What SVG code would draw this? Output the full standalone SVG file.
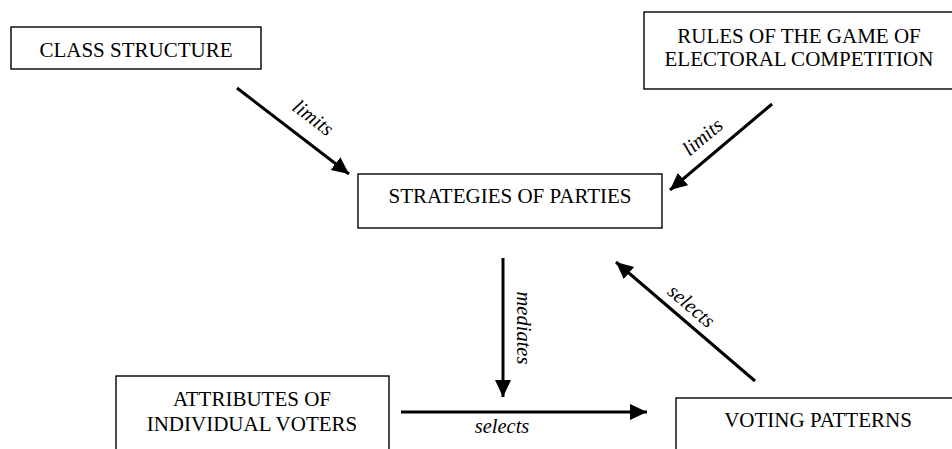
<svg xmlns="http://www.w3.org/2000/svg" width="952" height="449" viewBox="0 0 952 449">
<defs>
<style>
.box{fill:#fff;stroke:#000;stroke-width:1.4}
.nt{font-family:"Liberation Serif","Times New Roman",serif;font-size:21px;fill:#000;text-anchor:middle}
.lb{font-family:"Liberation Serif","Times New Roman",serif;font-size:20.5px;font-style:italic;fill:#000;text-anchor:middle}
.ar{stroke:#000;stroke-width:3;fill:none;marker-end:url(#ah)}
</style>
<marker id="ah" markerUnits="userSpaceOnUse" markerWidth="18" markerHeight="17" refX="17" refY="8" orient="auto" viewBox="0 0 18 17">
<path d="M0,0 L17,8 L0,16 z" fill="#000"/>
</marker>
</defs>
<rect width="952" height="449" fill="#fff"/>
<g id="class-structure">
<rect class="box" x="11" y="27" width="250" height="42"/>
<text class="nt" x="136" y="57">CLASS STRUCTURE</text>
</g>
<g id="rules">
<rect class="box" x="644" y="12" width="320" height="77"/>
<text class="nt" x="799" y="43">RULES OF THE GAME OF</text>
<text class="nt" x="799" y="66">ELECTORAL COMPETITION</text>
</g>
<g id="strategies">
<rect class="box" x="358" y="174" width="304" height="54"/>
<text class="nt" x="510" y="203">STRATEGIES OF PARTIES</text>
</g>
<g id="attributes">
<rect class="box" x="116" y="376" width="273" height="100"/>
<text class="nt" x="252" y="406">ATTRIBUTES OF</text>
<text class="nt" x="252" y="431">INDIVIDUAL VOTERS</text>
</g>
<g id="voting-patterns">
<rect class="box" x="676" y="398" width="300" height="80"/>
<text class="nt" x="818" y="427">VOTING PATTERNS</text>
</g>
<g id="connectors">
<line class="ar" x1="237" y1="88" x2="349" y2="174"/>
<line class="ar" x1="772" y1="104" x2="670" y2="190"/>
<line class="ar" x1="503" y1="258" x2="503" y2="397"/>
<line class="ar" x1="755" y1="381" x2="616" y2="262"/>
<line class="ar" x1="401" y1="412" x2="647" y2="412"/>
<text class="lb" transform="translate(309,123) rotate(37.5)">limits</text>
<text class="lb" transform="translate(707,142) rotate(-40)">limits</text>
<text class="lb" transform="translate(517,328) rotate(90)">mediates</text>
<text class="lb" transform="translate(687,311) rotate(40.6)">selects</text>
<text class="lb" x="502" y="433">selects</text>
</g>
</svg>
